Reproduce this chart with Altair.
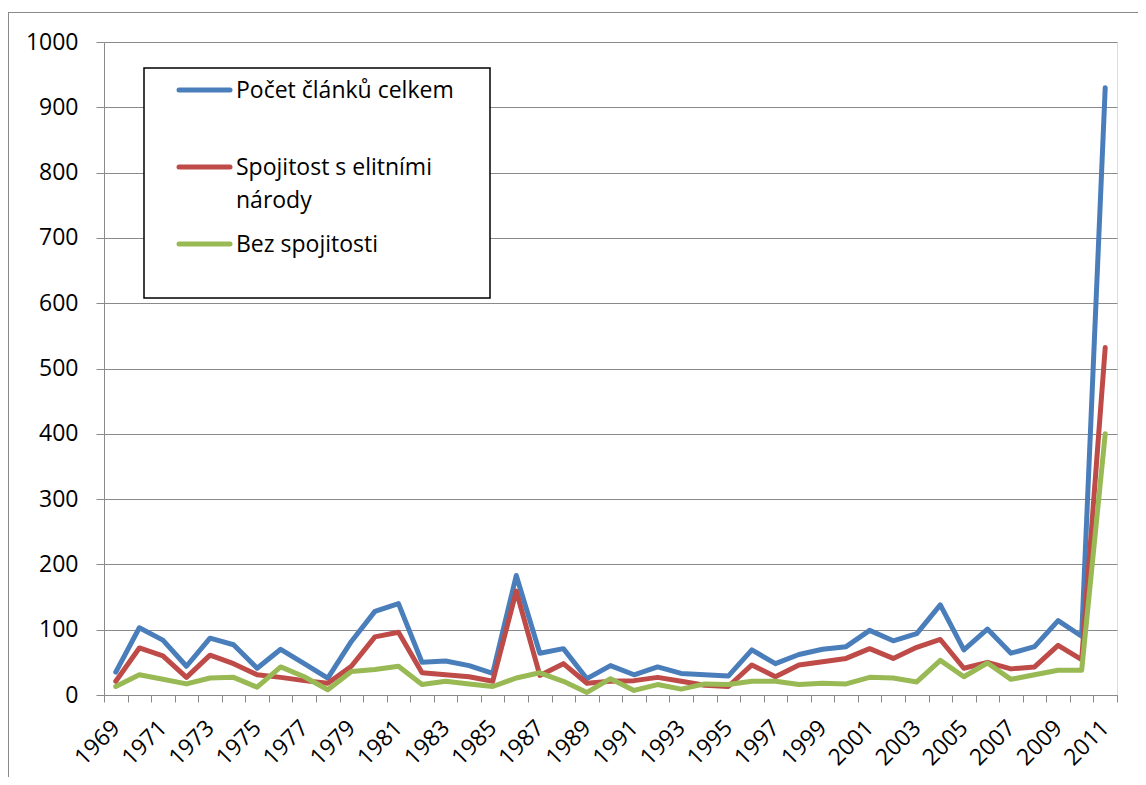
import altair as alt
import pandas as pd

# ---- data ----
years = list(range(1969, 2012))
celkem = [35, 103, 84, 44, 87, 77, 41, 70, 48, 26,
          82, 128, 140, 50, 52, 45, 33, 183, 64, 71,
          25, 45, 31, 43, 33, 31, 29, 69, 48, 62,
          70, 74, 99, 83, 94, 138, 69, 101, 64, 74,
          114, 90, 930]
elitni = [21, 72, 60, 27, 61, 48, 31, 27, 22, 18,
          44, 89, 96, 34, 31, 28, 21, 159, 30, 48,
          18, 21, 22, 27, 21, 15, 13, 46, 28, 46,
          51, 56, 71, 56, 73, 85, 41, 50, 40, 43,
          76, 54, 532]
bez = [13, 31, 24, 17, 26, 27, 12, 43, 28, 8,
       36, 39, 44, 16, 21, 17, 13, 26, 34, 21,
       4, 25, 7, 16, 9, 17, 16, 21, 21, 16,
       18, 17, 27, 26, 20, 53, 28, 49, 24, 31,
       38, 38, 400]
series_names = ["Počet článků celkem", "Spojitost s elitními národy", "Bez spojitosti"]
series_colors = ["#4A7EBB", "#BE4B48", "#98B954"]
y_ticks = list(range(0, 1001, 100))

# ---- layout / style ----
W, H = 1013, 653
PAD = {"left": 96, "top": 34, "right": 21, "bottom": 82}
FONT = "Open Sans"
FS = 23
GREY = "#8a8a8a"

df = pd.DataFrame({
    "year": years * 3,
    "value": celkem + elitni + bez,
    "series": [n for n in series_names for _ in years],
})

half_band = W / len(years) / 2
boundaries = [y - 0.5 for y in years] + [years[-1] + 0.5]
first, last = years[0], years[-1]

x_enc = alt.X(
    "year:Q",
    scale=alt.Scale(domain=[first - 0.5, last + 0.5], nice=False, zero=False),
    axis=alt.Axis(
        values=boundaries, title=None, grid=False,
        tickSize=7, tickColor=GREY, tickWidth=1,
        domainColor=GREY, domainWidth=1,
        labelExpr=f"((datum.value + 0.5 - {first}) % 2 == 0) && datum.value < {last} ? format(datum.value + 0.5, 'd') : ''",
        labelOffset=half_band, labelAngle=-45, labelAlign="right",
        labelBaseline="middle", labelPadding=22,
        labelFont=FONT, labelFontSize=FS, labelColor="black",
        labelOverlap=False, labelFlush=False, labelBound=False,
    ),
)
y_enc = alt.Y(
    "value:Q",
    scale=alt.Scale(domain=[0, 1000], nice=False),
    axis=alt.Axis(
        values=y_ticks, title=None, grid=True, gridColor=GREY, gridWidth=1,
        tickSize=8, tickColor=GREY, domainColor=GREY, domainWidth=1,
        labelPadding=18, labelFont=FONT, labelFontSize=FS, labelColor="black",
        format="d",
    ),
)
color_enc = alt.Color("series:N", scale=alt.Scale(domain=series_names, range=series_colors), legend=None)

layers = []
for name in series_names:
    layers.append(
        alt.Chart(df).transform_filter(alt.datum.series == name)
        .mark_line(strokeWidth=5, strokeJoin="round", strokeCap="round")
        .encode(x=x_enc, y=y_enc, color=color_enc)
    )

one = pd.DataFrame({"k": [0]})

# outer chart border (top and left edges; the rest is cropped in the reference)
layers.append(alt.Chart(one).mark_rule(color=GREY, strokeWidth=1).encode(
    x=alt.value(-PAD["left"]), x2=alt.value(W + PAD["right"]), y=alt.value(-29.5)))
layers.append(alt.Chart(one).mark_rule(color=GREY, strokeWidth=1).encode(
    x=alt.value(-PAD["left"] + 0.5), y=alt.value(-30), y2=alt.value(H + PAD["bottom"])))

# legend box
layers.append(alt.Chart(one).mark_rect(fill="white", stroke="black", strokeWidth=1.5).encode(
    x=alt.value(40), x2=alt.value(386), y=alt.value(26), y2=alt.value(256)))

for i, (name, col) in enumerate(zip(series_names, series_colors)):
    cy = 48 + 77 * i
    layers.append(alt.Chart(one).mark_rule(color=col, strokeWidth=5, strokeCap="round").encode(
        x=alt.value(75), x2=alt.value(126), y=alt.value(cy)))
    label = name.rsplit(" ", 1) if len(name) > 22 else name
    layers.append(alt.Chart(one).mark_text(
        align="left", baseline="alphabetic", font=FONT, fontSize=FS,
        lineHeight=33, color="black").encode(
        x=alt.value(132), y=alt.value(cy + 8.3), text=alt.value(label)))

chart = alt.layer(*layers).properties(
    width=W, height=H, padding=PAD,
    autosize=alt.AutoSizeParams(type="none"),
).configure_view(stroke=None).configure(background="white")

chart.save("out.html", embed_options={"renderer": "svg", "actions": False})
